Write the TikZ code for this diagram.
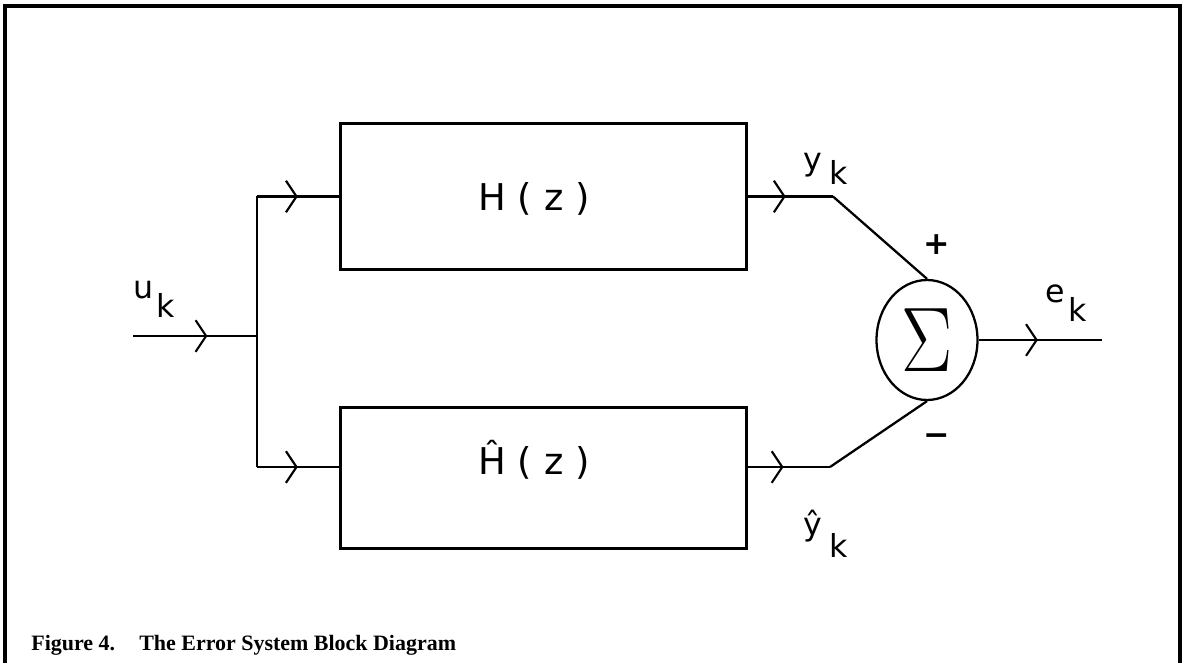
\documentclass[tikz,border=0pt]{standalone}
\usepackage{graphicx}
\usepackage{fontspec}
\setmainfont{Liberation Serif}
\newfontfamily\pix{DejaVu Sans}
\usetikzlibrary{arrows.meta,decorations.markings,shapes.geometric}
\newcommand{\bigsigmasym}{\scalebox{1.75}[2.1]{\fontsize{24}{24}\selectfont$\Sigma$}}
\tikzset{
  wire/.style={line width=1.7pt},
  thinwire/.style={line width=1.3pt},
  blockbox/.style={draw, line width=1.7pt, minimum width=8.14cm, inner sep=0pt},
  flow/.style={postaction={decorate}, decoration={markings,
      mark=at position #1 with {\arrow[line width=1.2pt]{Straight Barb[length=6pt,width=18pt]}}}},
  lbl/.style={inner sep=0pt, anchor=base west, font=\pix\fontsize{18}{18}\selectfont},
  boxtext/.style={inner sep=0pt, font=\pix\fontsize{21}{21}\selectfont},
}
\begin{document}
\begin{tikzpicture}[x=0.02cm,y=-0.02cm]
\useasboundingbox (0,0) rectangle (1182,662);
% frame
\draw[line width=1.8pt] (5,680) -- (5,6) -- (1180,6) -- (1180,680);
% blocks
\node[blockbox, minimum height=2.94cm] (top) at (543.5,196.5) {};
\node[blockbox, minimum height=2.84cm] (bot) at (543.5,478) {};
\node[boxtext] (htxt) at (534,199) {H ( z )};
\node[boxtext] (hhtxt) at (534,460) {Ĥ ( z )};
\node[draw, ellipse, thinwire, minimum width=2.02cm, minimum height=2.4cm, inner sep=0pt] (sum) at (927,340) {\bigsigmasym};
% coordinates
\coordinate (in) at (133,336);
\coordinate (j) at (257,336);
\coordinate (jt) at (257,196.5);
\coordinate (jb) at (257,467);
\coordinate (yt) at (833,196.5);
\coordinate (yb) at (830,467);
\coordinate (out) at (1102,340);
% connectors
\draw[wire, flow=0.6] (in) -- (j);
\draw[wire] (jt) -- (jb);
\draw[wire, flow=0.5] (jt) -- (top.west);
\draw[wire, flow=0.5] (jb) -- (jb -| bot.west);
\draw[wire, flow=0.44] (top.east) -- (yt);
\draw[wire, flow=0.43] (jb -| bot.east) -- (yb);
\draw[thinwire] (yt) -- (sum.north);
\draw[thinwire] (yb) -- (sum.south);
\draw[wire, flow=0.48] (sum.east) -- (out);
% labels
\node[lbl] (uk) at (133,298) {u\kern2pt\raisebox{-0.4cm}{k}};
\node[lbl] (ykt) at (803,171) {y\kern4pt\raisebox{-0.28cm}{k}};
\node[lbl] (ek) at (1045,302) {e\kern2pt\raisebox{-0.4cm}{k}};
\node[lbl] (ykb) at (803,535) {ŷ\kern4pt\raisebox{-0.44cm}{k}};
\node[lbl, anchor=center, font=\pix\bfseries\fontsize{18}{18}\selectfont] (plus) at (937,245) {+};
\node[lbl, anchor=center, font=\pix\bfseries\fontsize{18}{18}\selectfont] (minus) at (937,440) {−};
% caption
\node[inner sep=0pt, anchor=base west, font=\bfseries\fontsize{12.5}{12.5}\selectfont] (cap) at (31,650)
  {Figure 4.\hspace{1.1em}The Error System Block Diagram};
\end{tikzpicture}
\end{document}
